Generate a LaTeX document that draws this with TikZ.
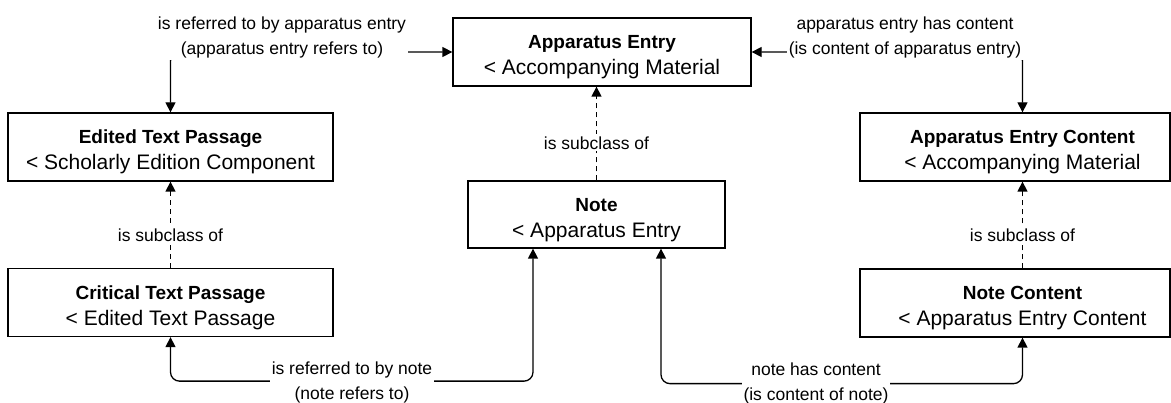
\documentclass[tikz,border=0pt]{standalone}
\usepackage{fontspec}
\setmainfont{Liberation Sans}
\usetikzlibrary{arrows.meta}
% class box lines: bold class name, then its parent class
\newcommand{\clstitle}[1]{{\fontsize{19}{26}\selectfont\bfseries\rule{0pt}{24pt}#1}}
\newcommand{\clsparent}[1]{{\fontsize{21}{26}\selectfont #1}}
\begin{document}
\begin{tikzpicture}[x=1pt,y=-1pt,
  >={Triangle[length=10pt,width=10pt]},
  cls/.style={draw, line width=1.3pt, minimum width=325pt, minimum height=68pt,
    align=center, inner sep=0pt, font=\fontsize{21}{26}\selectfont},
  rel/.style={line width=1.3pt, rounded corners=9pt},
  sub/.style={line width=1.3pt, ->, dash pattern=on 5pt off 4pt},
  lbl/.style={fill=white, align=center, inner sep=2pt, font=\fontsize{17.5}{25}\selectfont}]
\useasboundingbox (0,0) rectangle (1171,403);

% classes
\node[cls, minimum width=298pt] (ae) at (602,52)
  {\clstitle{Apparatus Entry}\\\clsparent{< Accompanying Material}};
\node[cls, minimum width=257pt, minimum height=67pt] (note) at (596.5,214.5)
  {\clstitle{Note}\\\clsparent{< Apparatus Entry}};
\node[cls] (etp) at (170.5,147)
  {\clstitle{Edited Text Passage}\\\clsparent{< Scholarly Edition Component}};
\node[cls] (ctp) at (170.5,302.5)
  {\clstitle{Critical Text Passage}\\\clsparent{< Edited Text Passage}};
\node[cls, minimum width=310pt] (aec) at (1015,147)
  {\hspace*{15pt}\clstitle{Apparatus Entry Content}\\\hspace*{15pt}\clsparent{< Accompanying Material}};
\node[cls, minimum width=310pt] (nc) at (1015,303)
  {\hspace*{15pt}\clstitle{Note Content}\\\hspace*{15pt}\clsparent{< Apparatus Entry Content}};

% subclass relations
\draw[sub] (note.north) -- node[lbl, pos=0.4] {is subclass of} (note.north |- ae.south);
\draw[sub] (ctp.north) -- node[lbl, pos=0.38] {is subclass of} (etp.south);
\draw[sub] ([xshift=7.5pt]nc.north) -- node[lbl, pos=0.38] {is subclass of} ([xshift=7.5pt]aec.south);

% object properties
\draw[rel, <->] (etp.north) |- (ae.west);
\node[lbl] (l1) at (282,37) {is referred to by apparatus entry\\(apparatus entry refers to)};

\draw[rel, <->] (ae.east) -| ([xshift=7.5pt]aec.north);
\node[lbl] (l2) at (905,37) {apparatus entry has content\\(is content of apparatus entry)};

\draw[rel, <->] (ctp.south) -- ++(0,44) -| ([xshift=-63.5pt]note.south);
\node[lbl] (l3) at (352,382) {is referred to by note\\(note refers to)};

\draw[rel, <->] ([xshift=7.5pt]nc.south) -- ++(0,46) -| ([xshift=64.5pt]note.south);
\node[lbl] (l4) at (816,383) {note has content\\(is content of note)};
\end{tikzpicture}
\end{document}
